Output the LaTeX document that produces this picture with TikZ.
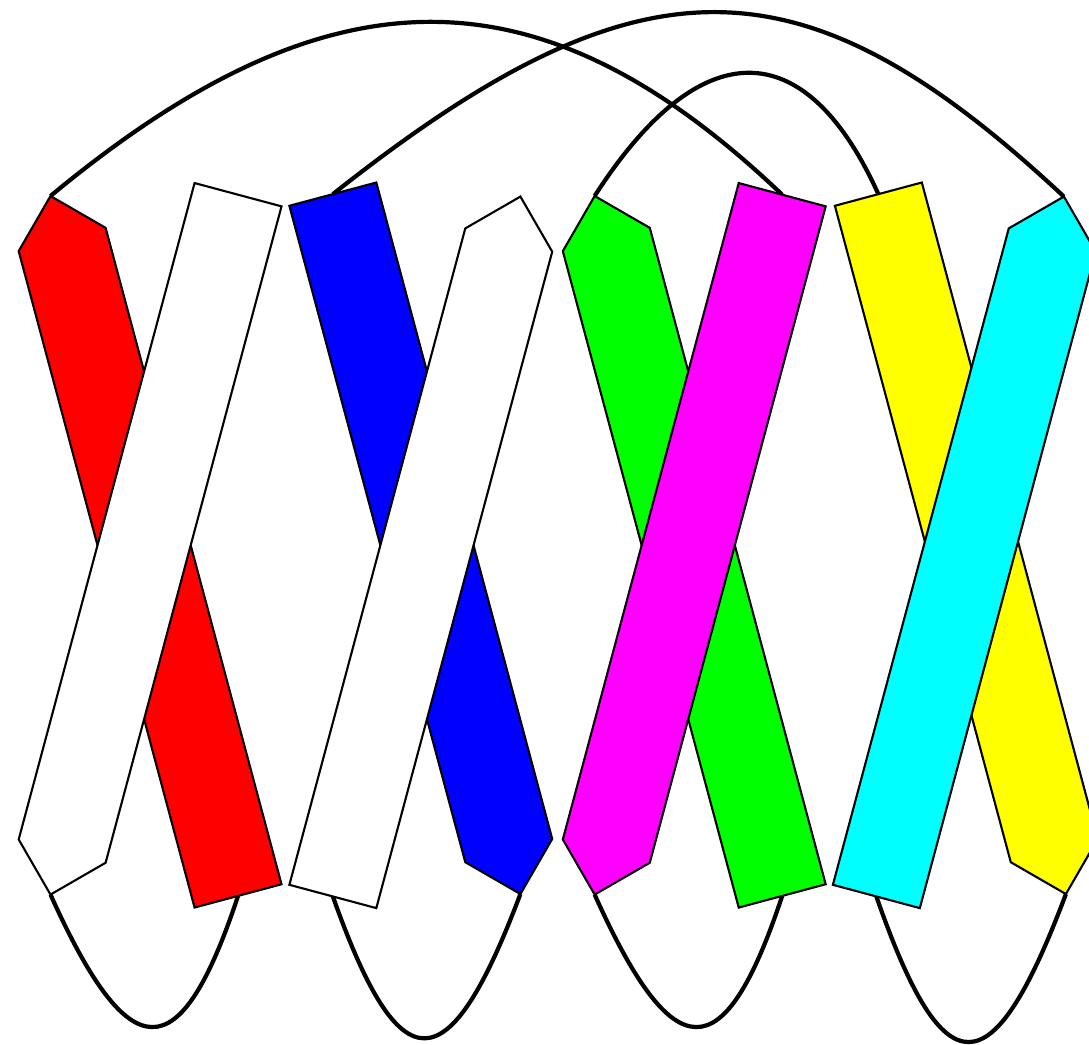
\documentclass[tikz,border=0pt]{standalone}
\definecolor{bandRed}{RGB}{255,0,0}
\definecolor{bandBlue}{RGB}{0,0,255}
\definecolor{bandGreen}{RGB}{0,255,0}
\definecolor{bandMagenta}{RGB}{255,0,255}
\definecolor{bandYellow}{RGB}{255,255,0}
\definecolor{bandCyan}{RGB}{0,255,255}
\begin{document}
\begin{tikzpicture}[x=1pt,y=-1pt,
  band/.style={draw=black, line width=2.1pt, line join=miter},
  strand/.style={draw=black, line width=4.2pt}]
\useasboundingbox (0,0) rectangle (1089,1044);
\clip (0,0) rectangle (1089,1044);

% ends of the bands
\coordinate (redA) at (50.5,196);
\coordinate (redB) at (238.05,895.9);
\coordinate (whtA) at (238.05,194.7);
\coordinate (whtB) at (50.5,894.6);
\coordinate (bluA) at (332.85,194.15);
\coordinate (bluB) at (520.4,894.0);
\coordinate (wh2A) at (520.4,196.6);
\coordinate (wh2B) at (332.85,896.45);
\coordinate (grnA) at (594.65,196);
\coordinate (grnB) at (782.2,895.9);
\coordinate (magA) at (782.2,194.7);
\coordinate (magB) at (594.65,894.6);
\coordinate (yelA) at (878.35,194.15);
\coordinate (yelB) at (1065.9,894.0);
\coordinate (cyaA) at (1063.9,196.6);
\coordinate (cyaB) at (876.35,896.45);

% connecting strands
\draw[strand] (whtB) .. controls (130,1071) and (180,1071) .. (redB);
\draw[strand] (wh2B) .. controls (400,1086) and (448,1086) .. (bluB);
\draw[strand] (magB) .. controls (674,1071) and (724,1071) .. (grnB);
\draw[strand] (cyaB) .. controls (944,1091) and (992,1091) .. (yelB);
\draw[strand] (redA) .. controls (330,-36) and (540,-36) .. (magA);
\draw[strand] (bluA) .. controls (640,-49) and (801,-49) .. (cyaA);
\draw[strand] (grnA) .. controls (700,32) and (805,32) .. (yelA);

% bands
\filldraw[band, fill=bandRed] (50.5,196) -- (105.62,227.85) -- (281.52,884.25) -- (194.58,907.55) -- (18.68,251.15) -- cycle;
\filldraw[band, fill=white] (194.58,183.05) -- (281.52,206.35) -- (105.62,862.75) -- (50.5,894.57) -- (18.68,839.45) -- cycle;
\filldraw[band, fill=bandBlue] (289.38,205.8) -- (376.32,182.5) -- (552.22,838.9) -- (520.4,894.02) -- (465.28,862.2) -- cycle;
\filldraw[band, fill=white] (520.4,196.58) -- (552.22,251.7) -- (376.32,908.1) -- (289.38,884.8) -- (465.28,228.4) -- cycle;
\filldraw[band, fill=bandGreen] (594.65,196.03) -- (649.77,227.85) -- (825.67,884.25) -- (738.73,907.55) -- (562.83,251.15) -- cycle;
\filldraw[band, fill=bandMagenta] (738.73,183.05) -- (825.67,206.35) -- (649.77,862.75) -- (594.65,894.57) -- (562.83,839.45) -- cycle;
\filldraw[band, fill=bandYellow] (834.88,205.8) -- (921.82,182.5) -- (1097.72,838.9) -- (1065.9,894.02) -- (1010.78,862.2) -- cycle;
\filldraw[band, fill=bandCyan] (1063.9,196.58) -- (1095.72,251.7) -- (919.82,908.1) -- (832.88,884.8) -- (1008.78,228.4) -- cycle;
\end{tikzpicture}
\end{document}
